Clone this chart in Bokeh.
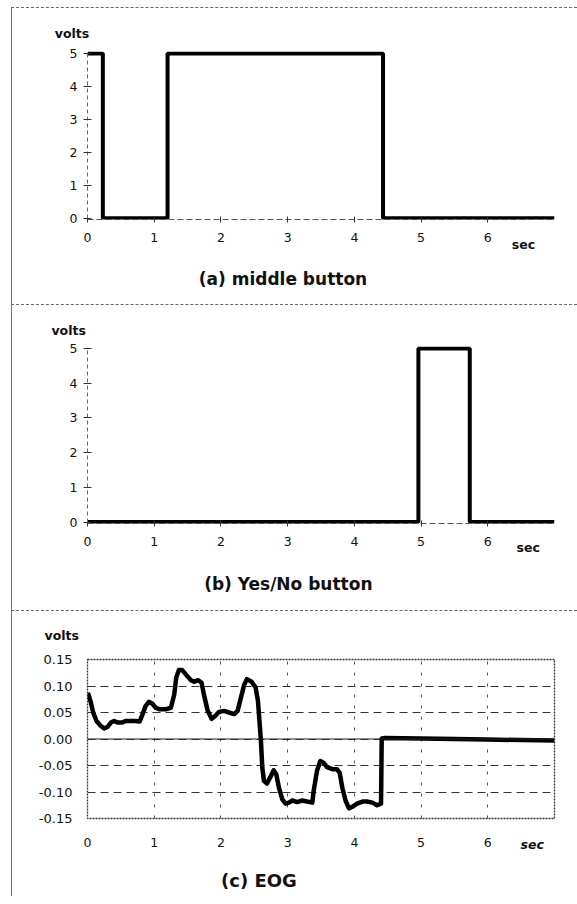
from bokeh.plotting import figure
from bokeh.layouts import column
from bokeh.models import Label, Span, FixedTicker, NumeralTickFormatter, Range1d
from bokeh.embed import file_html
from bokeh.resources import INLINE

# ---------------- data ----------------
# (a) middle button: step transition times (sec) and levels (volts)
mid_t = [0.0, 0.23, 1.20, 4.43, 7.0]
mid_v = [5, 0, 5, 0, 0]

# (b) Yes/No button
yn_t = [0.0, 4.96, 5.73, 7.0]
yn_v = [0, 5, 0, 0]

# (c) EOG signal
eog_t = [0.0, 0.015, 0.05, 0.085, 0.135, 0.2, 0.25, 0.30, 0.35, 0.40,
         0.45, 0.52, 0.57, 0.65, 0.72, 0.78, 0.82, 0.87, 0.92, 0.97,
         1.02, 1.08, 1.17, 1.25, 1.30, 1.33, 1.37, 1.42, 1.48, 1.55,
         1.60, 1.66, 1.71, 1.75, 1.80, 1.86, 1.91, 1.97, 2.05, 2.12,
         2.20, 2.25, 2.30, 2.35, 2.39, 2.46, 2.52, 2.555, 2.58, 2.60,
         2.62, 2.645, 2.69, 2.74, 2.79, 2.83, 2.87, 2.92, 2.97, 3.02,
         3.07, 3.14, 3.22, 3.29, 3.37, 3.39, 3.44, 3.49, 3.54, 3.59,
         3.67, 3.74, 3.78, 3.82, 3.87, 3.92, 3.97, 4.04, 4.12, 4.19,
         4.27, 4.34, 4.40, 4.41, 4.46, 5.0, 5.5, 6.0, 6.5, 7.0]
eog_v = [0.086, 0.084, 0.069, 0.050, 0.034, 0.0245, 0.020, 0.0226, 0.031, 0.034,
         0.031, 0.031, 0.034, 0.034, 0.034, 0.033, 0.045, 0.062, 0.070, 0.067,
         0.059, 0.056, 0.056, 0.059, 0.084, 0.116, 0.130, 0.130, 0.121, 0.111,
         0.108, 0.111, 0.106, 0.081, 0.054, 0.038, 0.043, 0.051, 0.053, 0.050,
         0.047, 0.053, 0.078, 0.103, 0.113, 0.108, 0.097, 0.072, 0.030, -0.004,
         -0.054, -0.079, -0.084, -0.072, -0.059, -0.067, -0.092, -0.114, -0.122, -0.120,
         -0.116, -0.119, -0.116, -0.118, -0.120, -0.098, -0.060, -0.0415, -0.045, -0.053,
         -0.057, -0.057, -0.064, -0.092, -0.117, -0.131, -0.128, -0.122, -0.118, -0.118,
         -0.120, -0.125, -0.122, 0.001, 0.002, 0.001, 0.0, -0.001, -0.002, -0.003]

x_ticks = [0, 1, 2, 3, 4, 5, 6]
volt_ticks = [0, 1, 2, 3, 4, 5]
eog_ticks = [-0.15, -0.10, -0.05, 0.0, 0.05, 0.10, 0.15]
titles = ["(a) middle button", "(b) Yes/No button", "(c) EOG"]
y_label = "volts"
x_label = "sec"

FONT = "DejaVu Sans"
PANEL_STYLE = {"border-top": "1px dashed #666", "border-left": "1px solid #777"}
FIG_W = 566


def label(p, x, y, text, size, side, style="bold", align="left"):
    p.add_layout(Label(x=x, y=y, text=text, text_font=FONT, text_font_size=size,
                       text_font_style=style, text_color="#111",
                       text_align=align, text_baseline="middle"), side)


def button_panel(t, v, h, top, fh, title, pos):
    p = figure(width=FIG_W, height=h, x_range=Range1d(0, 7), y_range=Range1d(-0.04, 5.06),
               output_backend="svg", toolbar_location=None,
               min_border_left=75, min_border_right=FIG_W - 75 - 469,
               min_border_top=top, min_border_bottom=h - top - fh)
    p.outline_line_color = None
    p.grid.visible = False
    p.background_fill_color = "white"
    p.border_fill_color = "white"
    p.step(t, v, mode="after", line_width=4, line_color="black")

    xa = p.xaxis[0]
    xa.bounds = (0, 7)
    xa.ticker = FixedTicker(ticks=x_ticks)
    xa.axis_line_color = "#555"
    xa.axis_line_dash = "6 3"
    xa.major_tick_in = 3
    xa.major_tick_out = 3
    xa.major_tick_line_color = "#333"
    xa.minor_tick_line_color = None
    xa.major_label_standoff = 10
    xa.major_label_text_font = FONT
    xa.major_label_text_font_size = "12.5px"
    xa.major_label_text_color = "#111"

    ya = p.yaxis[0]
    ya.bounds = (0, 5)
    ya.ticker = FixedTicker(ticks=volt_ticks)
    ya.axis_line_color = "#666"
    ya.axis_line_dash = "4 3"
    ya.major_tick_in = 4
    ya.major_tick_out = 4
    ya.major_tick_line_color = "#333"
    ya.minor_tick_line_color = None
    ya.major_label_standoff = 6
    ya.major_label_text_font = FONT
    ya.major_label_text_font_size = "12.5px"
    ya.major_label_text_color = "#111"

    (vx, vy), (sx, sy), (tx, ty) = pos
    label(p, vx, vy, y_label, "12.5px", "above")
    label(p, sx, sy, x_label, "12.5px", "below")
    label(p, tx, ty, title, "17px", "below", align="center")
    p.styles = PANEL_STYLE
    return p


pa = button_panel(mid_t, mid_v, 297, 43, 168, titles[0],
                  [(-0.49, 5.61), (6.36, -0.80), (2.93, -1.86)])
pb = button_panel(yn_t, yn_v, 306, 41, 177, titles[1],
                  [(-0.54, 5.52), (6.43, -0.72), (3.01, -1.79)])

# ---------------- (c) EOG ----------------
pc = figure(width=FIG_W, height=286, x_range=Range1d(0, 7), y_range=Range1d(-0.15, 0.15),
            output_backend="svg", toolbar_location=None,
            min_border_left=74, min_border_right=FIG_W - 74 - 468,
            min_border_top=48, min_border_bottom=79)
pc.background_fill_color = "white"
pc.border_fill_color = "white"
pc.outline_line_color = "#333"
pc.outline_line_dash = "2 1"
pc.outline_line_width = 1.3

pc.xaxis.ticker = FixedTicker(ticks=x_ticks)
pc.yaxis.ticker = FixedTicker(ticks=eog_ticks)
pc.yaxis.formatter = NumeralTickFormatter(format="0.00")
for ax in (pc.xaxis[0], pc.yaxis[0]):
    ax.axis_line_color = None
    ax.major_tick_line_color = None
    ax.minor_tick_line_color = None
    ax.major_label_text_font = FONT
    ax.major_label_text_color = "#111"
pc.xaxis.major_label_text_font_size = "12.5px"
pc.xaxis.major_label_standoff = 13
pc.yaxis.major_label_text_font_size = "13px"
pc.yaxis.major_label_standoff = 9

pc.ygrid.grid_line_color = "#333"
pc.ygrid.grid_line_dash = "8 5"
pc.ygrid.grid_line_width = 1
pc.xgrid.grid_line_color = "#555"
pc.xgrid.grid_line_dash = "3 8"
pc.xgrid.grid_line_width = 1

pc.add_layout(Span(location=0, dimension="width", line_color="#222", line_width=1))
pc.line(eog_t, eog_v, line_width=4.5, line_color="black", line_join="round")

label(pc, -0.643, 0.195, y_label, "12.5px", "above")
label(pc, 6.49, -0.199, x_label, "12.5px", "below", style="bold italic")
label(pc, 2.57, -0.267, titles[2], "18px", "below", align="center")
pc.styles = PANEL_STYLE

layout = column(pa, pb, pc, margin=(7, 0, 0, 11))
open("out.html", "w").write(file_html(layout, INLINE))
